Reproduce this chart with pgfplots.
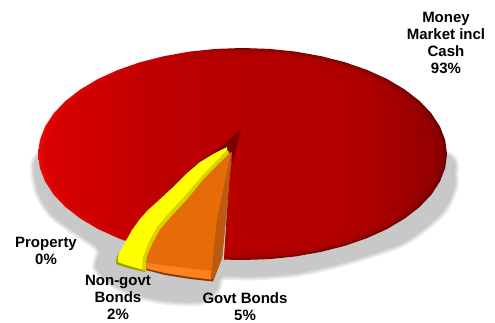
\documentclass[border=0pt]{standalone}
\usepackage{pgfplots}
\usepackage{pgfplotstable}
\usepackage{fontspec}
\setmainfont{Liberation Sans}
\pgfplotsset{compat=1.18}

\definecolor{shadowgrey}{RGB}{200,200,200}
\definecolor{darkcut}{RGB}{125,0,0}
\definecolor{yellowtop}{RGB}{255,255,0}
\definecolor{yellowedge}{RGB}{215,210,0}
\definecolor{orangetop}{RGB}{230,108,10}
\definecolor{orangerim}{RGB}{255,130,30}
\definecolor{orangeside}{RGB}{190,90,15}
\definecolor{orangebase}{RGB}{130,60,10}

\tikzset{slicelabel/.style={font=\fontsize{15}{17}\selectfont\bfseries, align=center, inner sep=0pt, text=black}}

% Left-to-right tones of the rim and of the upper face of the large slice
\pgfdeclarehorizontalshading{rimred}{100bp}{
  rgb(0bp)=(0.92,0.06,0.06); rgb(25bp)=(0.92,0.06,0.06);
  rgb(40bp)=(0.78,0,0); rgb(50bp)=(0.45,0,0); rgb(75bp)=(0.38,0,0); rgb(100bp)=(0.38,0,0)}
\pgfdeclarehorizontalshading{topred}{100bp}{
  rgb(0bp)=(0.85,0,0); rgb(25bp)=(0.85,0,0);
  rgb(40bp)=(0.74,0,0); rgb(65bp)=(0.71,0,0); rgb(75bp)=(0.60,0,0); rgb(100bp)=(0.60,0,0)}

% Outline of the large slice (Money Market incl Cash, 93%)
\pgfplotstableread{
x y
447 154
445.2 140.2
440 126.6
431.4 113.4
419.6 101
404.7 89.5
387.1 79
367 69.9
344.8 62.2
320.8 56.1
295.4 51.6
269.2 48.9
242.5 48
215.8 48.9
189.6 51.6
164.2 56.1
140.2 62.2
118 69.9
97.9 79
80.3 89.5
65.4 101
53.6 113.4
45 126.6
39.8 140.2
38 154
39.8 167.8
45 181.4
53.6 194.6
65.4 207
80.3 218.5
97.9 229
118 238.1
125.2 240.8
143 215
170 188
200 161
225 144
241 128
230 170
227 213
224 259.6
242.5 260
269.2 259.1
295.4 256.4
320.8 251.9
344.8 245.8
367 238.1
387.1 229
404.7 218.5
419.6 207
431.4 194.6
440 181.4
445.2 167.8
}\moneytable

\pgfplotstableread{
x y
60 140
35 160
37 190
50 213
70 229
98 249
96 268
117 287
157 300
200 302
217 290
222 277
253 277
300 273
350 261
403 243
437 218
450 200
455 177
435 150
240 120
}\shadowtable

\newcommand{\moneylayer}[1]{%
  \addplot[draw=none, shading=topred, fill opacity=0.38, opacity=0.38] table[
    x expr={242.5+#1*(\thisrow{x}-242.5)},
    y expr={154+#1*(\thisrow{y}-154)}] {\moneytable} -- cycle;
}

\begin{document}
\begin{tikzpicture}
\begin{axis}[
  scale only axis, width=495pt, height=322pt,
  xmin=0, xmax=495, ymin=0, ymax=322, y dir=reverse,
  hide axis, clip=false,
]
% Soft drop shadow under the pie
\addplot[smooth, draw=shadowgrey!35!white, line width=7pt, fill=shadowgrey!35!white, line join=round] table {\shadowtable} -- cycle;
\addplot[smooth, draw=shadowgrey!70!white, line width=3.5pt, fill=shadowgrey!70!white, line join=round] table {\shadowtable} -- cycle;
\addplot[smooth, draw=none, fill=shadowgrey] table {\shadowtable} -- cycle;

% Large slice: rim first, then the face in steps towards the flat tone
\addplot[draw=none, shading=rimred] table {\moneytable} -- cycle;
\moneylayer{0.995}
\moneylayer{0.985}
\moneylayer{0.975}
\moneylayer{0.96}
\moneylayer{0.945}
\moneylayer{0.925}
\moneylayer{0.90}
\moneylayer{0.87}

% Dark inner wall of the cut
\addplot[draw=none, fill=darkcut] coordinates {
 (241,128) (225,144) (200,161) (170,188) (175,190) (205,165) (228,150) (232,165) (237,145)} -- cycle;

% Property / Non-govt Bonds slice
\addplot[draw=none, fill=yellowedge!75!black] coordinates {
 (227,147) (147,257) (145,272) (128,268) (116,264) (117,256)} -- cycle;
\addplot[draw=none, fill=yellowtop] coordinates {
 (227,147) (215,153) (200,162) (185,175) (170,190) (157,202) (148,210) (140,219)
 (132,230) (125,243) (120,252) (118,257) (118,262) (126,265) (144,270) (147,257) (153,243)
 (160,230) (172,216) (187,200) (205,178) (227,153)} -- cycle;
\addplot[draw=none, fill=yellowedge] coordinates {
 (227,150) (202,176) (184,197) (169,213) (157,227) (149,242) (143,257) (142,270)
 (147,271) (147,257) (153,243) (160,230) (172,216) (187,200) (205,178) (229,153)} -- cycle;

% Govt Bonds slice
\addplot[draw=none, fill=orangebase] coordinates {
 (231,152) (205,178) (187,200) (172,216) (160,230) (153,243) (147,257) (146,270)
 (165,275) (190,279) (213,281.5) (222,258) (232,153)} -- cycle;
\addplot[draw=none, fill=orangerim] coordinates {
 (231,152) (205,178) (187,200) (172,216) (160,230) (153,243) (147,257) (146,268.5)
 (165,273) (190,277) (211,279.5) (217,220)} -- cycle;
\addplot[draw=none, fill=orangetop] coordinates {
 (231,152) (205,178) (187,200) (172,216) (160,230) (153,243) (147,257) (147,263)
 (170,266) (190,268.5) (212,271) (217,220)} -- cycle;
\addplot[draw=none, fill=orangeside] coordinates {
 (232,153) (226.5,215) (222,258) (213,280) (211,277) (217,220) (231,152)} -- cycle;

% Slice labels
\node[slicelabel] at (axis cs:446,43) {Money\\Market incl\\Cash\\93\%};
\node[slicelabel] at (axis cs:46,250.5) {Property\\0\%};
\node[slicelabel] at (axis cs:118,297.5) {Non-govt\\Bonds\\2\%};
\node[slicelabel] at (axis cs:245,306.5) {Govt Bonds\\5\%};
\end{axis}
\pgfresetboundingbox
\useasboundingbox (0,0) rectangle (495pt,322pt);
\end{tikzpicture}
\end{document}
